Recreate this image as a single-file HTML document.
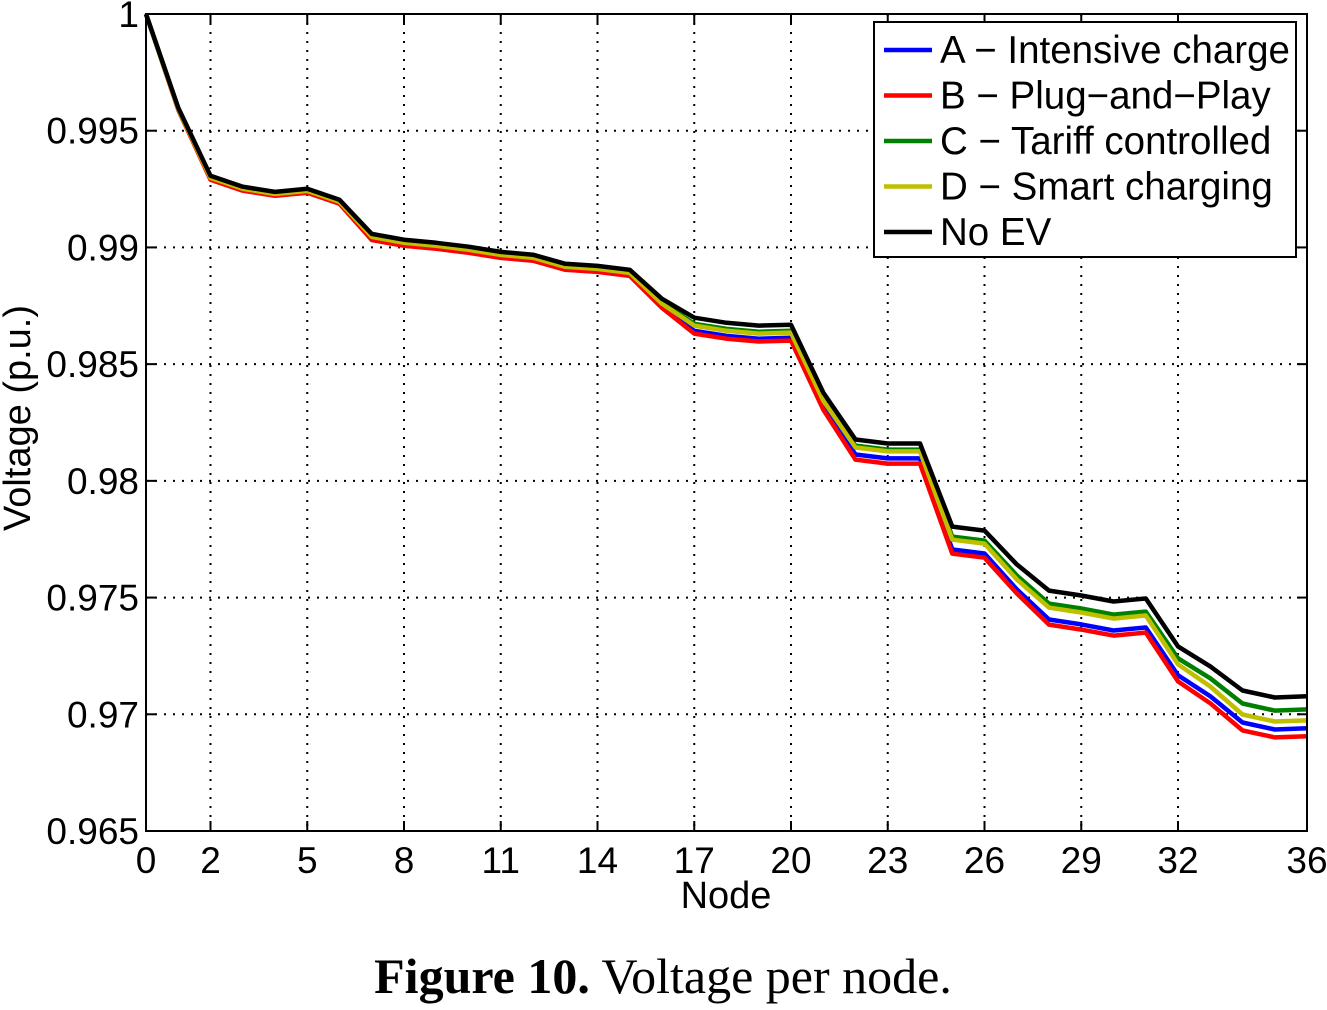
<!DOCTYPE html>
<html><head><meta charset="utf-8"><style>
body{margin:0;background:#fff;width:1327px;height:1005px;overflow:hidden}
svg text{font-family:"Liberation Sans",sans-serif}
</style></head><body>
<svg id="chart" width="1327" height="1005" xmlns="http://www.w3.org/2000/svg">
<g id="grid"></g>
<g id="series"></g>
<rect x="146" y="14" width="1161" height="817" fill="none" stroke="#000" stroke-width="2"/>
<g id="ticks"></g>
<text x="726" y="908" font-size="38" text-anchor="middle">Node</text>
<text transform="translate(30,418) rotate(-90)" font-size="38" text-anchor="middle">Voltage (p.u.)</text>
<g id="legend">
<rect x="874" y="22" width="422" height="235" fill="#fff" stroke="#000" stroke-width="2"/>
</g>
<text x="663" y="993" font-size="50" text-anchor="middle" style="font-family:'Liberation Serif',serif"><tspan font-weight="bold">Figure 10.</tspan> Voltage per node.</text>
</svg>
<script>
const nodes=[0,1,2,3,4,5,6,7,8,9,10,11,12,13,14,15,16,17,18,19,20,21,22,23,24,25,26,27,28,29,30,31,32,33,34,35,36];
const xTicks=[0,2,5,8,11,14,17,20,23,26,29,32,36];
const yTicks=[0.965,0.97,0.975,0.98,0.985,0.99,0.995,1];
const yTickLabels=["0.965","0.97","0.975","0.98","0.985","0.99","0.995","1"];
const seriesNames=["A − Intensive charge","B − Plug−and−Play","C − Tariff controlled","D − Smart charging","No EV"];
const seriesColors=["#0000ff","#ff0000","#008000","#bfbf00","#000000"];
const seriesA=[1,0.99594,0.99294,0.99247,0.99225,0.99238,0.99191,0.99037,0.99012,0.98999,0.98982,0.98960,0.98948,0.98909,0.98900,0.98883,0.98746,0.98643,0.98621,0.98609,0.98613,0.98322,0.98113,0.98096,0.98096,0.97706,0.97689,0.97535,0.97406,0.97385,0.97359,0.97372,0.97167,0.97077,0.96965,0.96935,0.96940];
const seriesB=[1,0.99589,0.99290,0.99243,0.99221,0.99234,0.99187,0.99032,0.99007,0.98994,0.98977,0.98955,0.98943,0.98904,0.98895,0.98878,0.98741,0.98631,0.98609,0.98597,0.98601,0.98305,0.98091,0.98074,0.98074,0.97688,0.97671,0.97518,0.97384,0.97363,0.97337,0.97350,0.97141,0.97047,0.96931,0.96901,0.96906];
const seriesC=[1,0.99594,0.99303,0.99256,0.99234,0.99247,0.99200,0.99049,0.99024,0.99011,0.98994,0.98972,0.98960,0.98921,0.98912,0.98895,0.98763,0.98673,0.98651,0.98639,0.98643,0.98352,0.98151,0.98134,0.98134,0.97761,0.97744,0.97595,0.97474,0.97453,0.97427,0.97440,0.97240,0.97154,0.97046,0.97016,0.97021];
const seriesD=[1,0.99594,0.99298,0.99251,0.99229,0.99242,0.99195,0.99045,0.99020,0.99007,0.98990,0.98968,0.98956,0.98917,0.98908,0.98891,0.98759,0.98665,0.98643,0.98631,0.98635,0.98344,0.98143,0.98126,0.98126,0.97748,0.97731,0.97578,0.97457,0.97436,0.97410,0.97423,0.97214,0.97119,0.96999,0.96969,0.96974];
const seriesNoEV=[1,0.99598,0.99307,0.99260,0.99238,0.99251,0.99204,0.99058,0.99033,0.99020,0.99003,0.98981,0.98969,0.98930,0.98921,0.98904,0.98780,0.98699,0.98677,0.98665,0.98669,0.98378,0.98177,0.98160,0.98160,0.97804,0.97787,0.97642,0.97530,0.97509,0.97483,0.97496,0.97291,0.97205,0.97102,0.97072,0.97077];
const allSeries=[seriesA,seriesB,seriesC,seriesD,seriesNoEV];
const X0=146,X1=1307,Y0=831,Y1=14,XMIN=0,XMAX=36,YMIN=0.965,YMAX=1;
const xs=v=>X0+(v-XMIN)/(XMAX-XMIN)*(X1-X0);
const ys=v=>Y0-(v-YMIN)/(YMAX-YMIN)*(Y0-Y1);
const NS="http://www.w3.org/2000/svg";
function mk(tag,attrs,parent){const e=document.createElementNS(NS,tag);for(const k in attrs)e.setAttribute(k,attrs[k]);parent.appendChild(e);return e;}
const grid=document.getElementById('grid'),ticks=document.getElementById('ticks'),ser=document.getElementById('series'),leg=document.getElementById('legend');
xTicks.forEach(t=>{const x=xs(t);
 if(t>XMIN&&t<XMAX){const g=mk('line',{x1:x,x2:x,y1:Y1,y2:Y0,stroke:'#000','stroke-width':2,'stroke-dasharray':'2 7'},grid);
 
 }
 mk('line',{x1:x,x2:x,y1:Y0,y2:Y0-10,stroke:'#000','stroke-width':2},grid);
 mk('line',{x1:x,x2:x,y1:Y1,y2:Y1+10,stroke:'#000','stroke-width':2},grid);
 const l=mk('text',{x:x,y:873,'font-size':37,'text-anchor':'middle'},ticks);l.textContent=t;
 
 
});
yTicks.forEach((t,i)=>{const y=ys(t);
 if(t>YMIN&&t<YMAX){const g=mk('line',{x1:X0,x2:X1,y1:y,y2:y,stroke:'#000','stroke-width':2,'stroke-dasharray':'2 7'},grid);
 
 }
 mk('line',{x1:X0,x2:X0+10,y1:y,y2:y,stroke:'#000','stroke-width':2},grid);
 mk('line',{x1:X1,x2:X1-10,y1:y,y2:y,stroke:'#000','stroke-width':2},grid);
 const l=mk('text',{x:139,y:y+13,'font-size':37,'text-anchor':'end'},ticks);l.textContent=yTickLabels[i];
 
 
});
allSeries.forEach((s,i)=>{const p=s.map((v,j)=>xs(nodes[j]).toFixed(1)+','+ys(v).toFixed(1)).join(' ');
 const pl=mk('polyline',{points:p,fill:'none',stroke:seriesColors[i],'stroke-width':4.5,'stroke-linejoin':'round'},ser);
 
 
 const ly=50+i*45.5;
 const ll=mk('line',{x1:884,x2:932,y1:ly,y2:ly,stroke:seriesColors[i],'stroke-width':4.5},leg);
 
 
 const lt=mk('text',{x:940,y:ly+13,'font-size':38.5},leg);lt.textContent=seriesNames[i];
 
 
});
</script>
</body></html>
